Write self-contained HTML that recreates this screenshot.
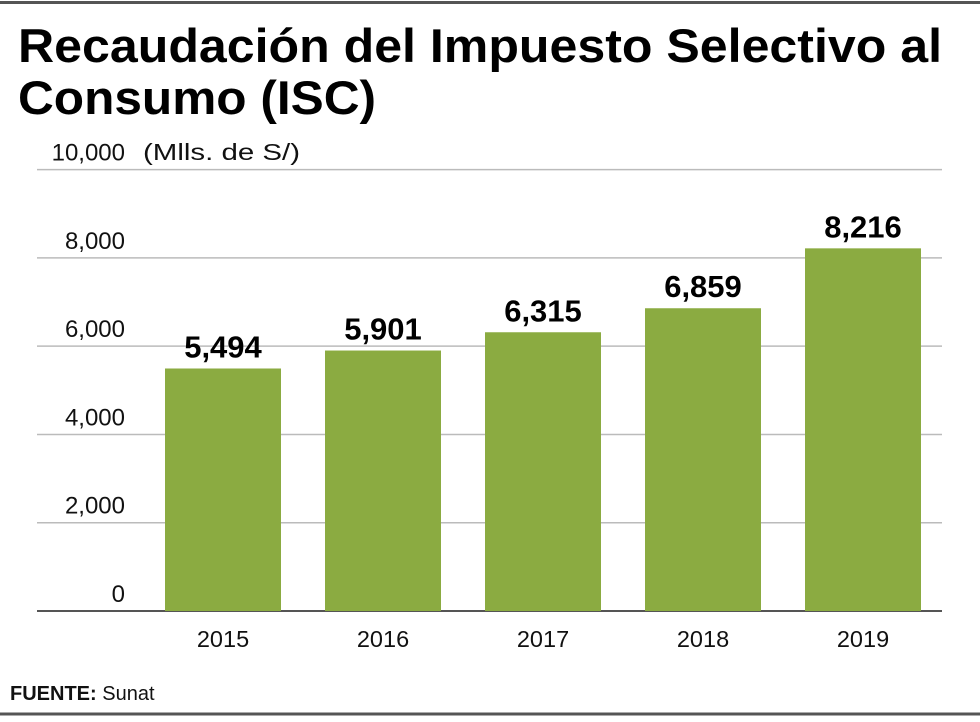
<!DOCTYPE html>
<html><head><meta charset="utf-8">
<style>
html,body{margin:0;padding:0;background:#fff;}
body{width:980px;height:717px;overflow:hidden;position:relative;font-family:"Liberation Sans",sans-serif;}
</style></head>
<body>
<svg id="chart" width="980" height="717" viewBox="0 0 980 717" xmlns="http://www.w3.org/2000/svg">
  <line x1="0" y1="2.5" x2="980" y2="2.5" stroke="#555" stroke-width="3"/>
  <text x="18" y="62" font-size="47" font-weight="bold" fill="#000" textLength="924" lengthAdjust="spacingAndGlyphs">Recaudación del Impuesto Selectivo al</text>
  <text x="18" y="114" font-size="47" font-weight="bold" fill="#000" textLength="358" lengthAdjust="spacingAndGlyphs">Consumo (ISC)</text>
  <text x="143" y="160" font-size="23" fill="#111" textLength="157" lengthAdjust="spacingAndGlyphs">(Mlls. de S/)</text>
  <g id="grid"></g>
  <g id="bars"></g>
  <text x="10" y="700" font-size="20" fill="#111"><tspan font-weight="bold">FUENTE:</tspan> Sunat</text>
  <line x1="0" y1="714" x2="980" y2="714" stroke="#555" stroke-width="3"/>
</svg>
<script>
const categories = ["2015","2016","2017","2018","2019"];
const values = [5494,5901,6315,6859,8216];
const yTicks = [0,2000,4000,6000,8000,10000];
const yTickLabels = ["0","2,000","4,000","6,000","8,000","10,000"];
const valueLabels = ["5,494","5,901","6,315","6,859","8,216"];

const NS = "http://www.w3.org/2000/svg";
const y0 = 611, yTop = 169.6, yMax = 10000;
function yScale(v){ return y0 - (v / yMax) * (y0 - yTop); }
const bandStart = 165, bandStep = 160, barW = 116;
function xScale(i){ return bandStart + i * bandStep; }

const grid = document.getElementById('grid');
yTicks.forEach((t, i) => {
  const y = yScale(t);
  const ln = document.createElementNS(NS, 'line');
  ln.setAttribute('x1', 37); ln.setAttribute('x2', 942);
  ln.setAttribute('y1', y); ln.setAttribute('y2', y);
  ln.setAttribute('stroke', t === 0 ? '#555' : '#bbb');
  ln.setAttribute('stroke-width', t === 0 ? 2 : 1.5);
  
  
  grid.appendChild(ln);
  const tx = document.createElementNS(NS, 'text');
  tx.setAttribute('x', 125); tx.setAttribute('y', y - 9);
  tx.setAttribute('text-anchor', 'end');
  tx.setAttribute('font-size', '24'); tx.setAttribute('fill', '#111');
  tx.textContent = yTickLabels[i];
  
  
  grid.appendChild(tx);
});

const bars = document.getElementById('bars');
categories.forEach((c, i) => {
  const x = xScale(i), y = yScale(values[i]);
  const r = document.createElementNS(NS, 'rect');
  r.setAttribute('x', x); r.setAttribute('y', y);
  r.setAttribute('width', barW); r.setAttribute('height', y0 - y);
  r.setAttribute('fill', '#8bab41');
  
  
  bars.appendChild(r);
  const v = document.createElementNS(NS, 'text');
  v.setAttribute('x', x + barW / 2); v.setAttribute('y', y - 11);
  v.setAttribute('text-anchor', 'middle');
  v.setAttribute('font-size', '31'); v.setAttribute('font-weight', 'bold'); v.setAttribute('fill', '#000');
  v.textContent = valueLabels[i];
  
  
  bars.appendChild(v);
  const xl = document.createElementNS(NS, 'text');
  xl.setAttribute('x', x + barW / 2); xl.setAttribute('y', 647);
  xl.setAttribute('text-anchor', 'middle');
  xl.setAttribute('font-size', '23.5'); xl.setAttribute('fill', '#111');
  xl.textContent = c;
  
  
  bars.appendChild(xl);
});
</script>
</body></html>
